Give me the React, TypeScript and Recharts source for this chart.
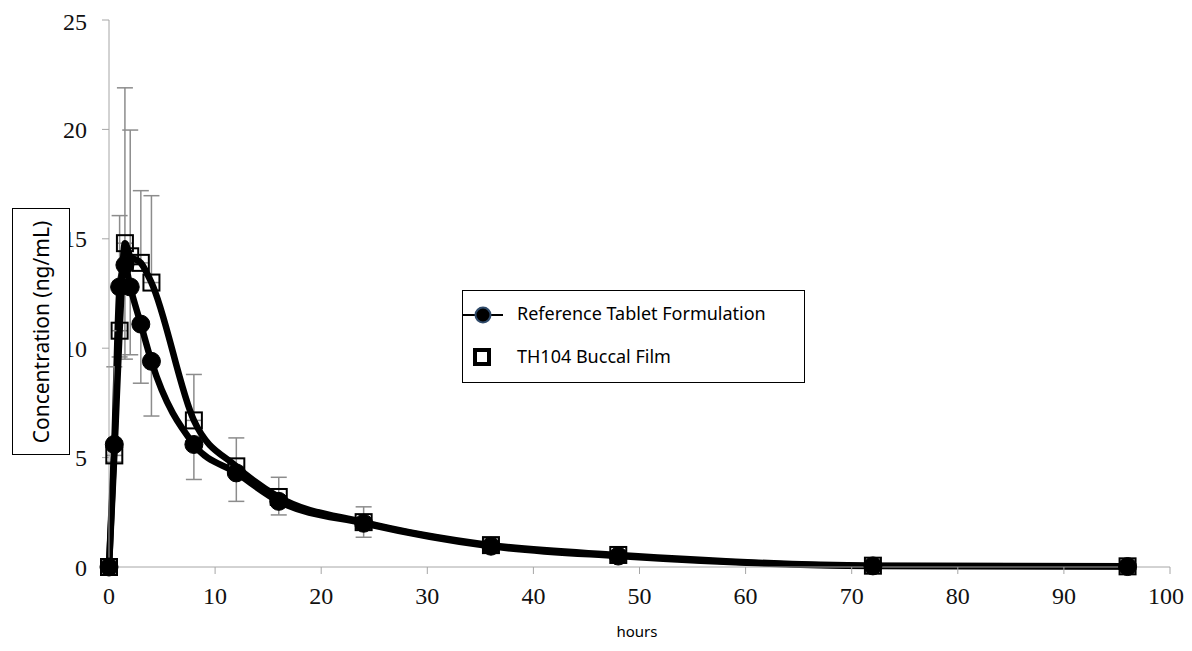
import { ComposedChart, Line, XAxis, YAxis, ErrorBar } from 'recharts';

// sampling times (hours)
const hours = [0, 0.5, 1, 1.5, 2, 3, 4, 8, 12, 16, 24, 36, 48, 72, 96];
// mean plasma concentration (ng/mL)
const referenceTablet = [0, 5.6, 12.8, 13.8, 12.8, 11.1, 9.4, 5.6, 4.3, 3.0, 2.0, 0.95, 0.5, 0.05, 0.02];
const buccalFilm = [0, 5.1, 10.8, 14.8, 14.2, 13.9, 13.0, 6.7, 4.6, 3.2, 2.05, 1.0, 0.55, 0.06, 0.03];
// error bars: reference shows minus side, film shows plus side
const referenceMinusErr = [0, 0.8, 3.2, 4.3, 3.1, 2.7, 2.5, 1.6, 1.3, 0.62, 0.64, 0.3, 0.2, 0.03, 0.02];
const buccalPlusErr = [0, 4.05, 5.26, 7.1, 5.77, 3.3, 3.97, 2.1, 1.3, 0.9, 0.7, 0.3, 0.2, 0.05, 0.04];

const xTicks = [0, 10, 20, 30, 40, 50, 60, 70, 80, 90, 100];
const yTicks = [0, 5, 10, 15, 20, 25];

const data = hours.map((h, i) => ({
  hours: h,
  reference: referenceTablet[i],
  film: buccalFilm[i],
  refErr: [referenceMinusErr[i], 0],
  filmErr: [0, buccalPlusErr[i]],
}));

const axisColor = '#a6a6a6';
const tickFont = { fontFamily: '"Liberation Serif", serif', fontSize: 24, fill: '#111' };
const labelFont = '"Noto Sans", sans-serif';

function SquareDot(props: any) {
  const { cx, cy, index } = props;
  if (cx == null || cy == null) return null;
  return <rect key={`sq-${index}`} x={cx - 8} y={cy - 8} width={16} height={16} fill="none" stroke="#000" strokeWidth={2} />;
}

export default function App() {
  return (
    <div style={{ position: 'relative', width: 1176, height: 635, background: '#fff' }}>
      <ComposedChart width={1176} height={635} data={data} margin={{ top: 12, right: 14, left: 41, bottom: 46 }}>
        <XAxis
          type="number"
          dataKey="hours"
          domain={[0, 100]}
          ticks={xTicks}
          stroke={axisColor}
          tickSize={7}
          tickMargin={13}
          tick={tickFont}
          height={30}
        />
        <YAxis
          type="number"
          domain={[0, 25]}
          ticks={yTicks}
          stroke={axisColor}
          tickSize={7}
          tickMargin={15}
          tick={tickFont}
          width={60}
        />
        <Line
          type="monotone"
          dataKey="reference"
          stroke="#000"
          strokeWidth={6.5}
          dot={{ r: 9, fill: '#000', stroke: '#000', strokeWidth: 1 }}
          isAnimationActive={false}
        >
          <ErrorBar dataKey="refErr" direction="y" width={8} stroke="#8c8c8c" strokeWidth={1.5} />
        </Line>
        <Line
          type="monotone"
          dataKey="film"
          stroke="#000"
          strokeWidth={6.5}
          dot={SquareDot}
          isAnimationActive={false}
        >
          <ErrorBar dataKey="filmErr" direction="y" width={8} stroke="#8c8c8c" strokeWidth={1.5} />
        </Line>
      </ComposedChart>

      <div
        style={{
          position: 'absolute', left: 4, top: 200, width: 58, height: 247,
          border: '1px solid #000', boxSizing: 'border-box', background: '#fff',
          display: 'flex', alignItems: 'center', justifyContent: 'center',
        }}
      >
        <div style={{ transform: 'rotate(-90deg)', whiteSpace: 'nowrap', fontFamily: labelFont, fontSize: 21, color: '#000' }}>
          Concentration (ng/mL)
        </div>
      </div>

      <div style={{ position: 'absolute', left: 0, width: 1176, top: 614, lineHeight: '18px', textAlign: 'center', paddingLeft: 82, boxSizing: 'border-box', fontFamily: labelFont, fontSize: 15, color: '#000' }}>
        hours
      </div>

      <div
        style={{
          position: 'absolute', left: 454, top: 282, width: 343, height: 93,
          border: '1px solid #000', boxSizing: 'border-box', background: '#fff',
          fontFamily: labelFont, fontSize: 18, color: '#000',
        }}
      >
        <svg width={44} height={20} style={{ position: 'absolute', left: 0, top: 14 }}>
          <line x1={0} y1={10} x2={40} y2={10} stroke="#000" strokeWidth={2} />
          <circle cx={20} cy={10} r={7.5} fill="#000" stroke="#2f4a6a" strokeWidth={2} />
        </svg>
        <div style={{ position: 'absolute', left: 54, top: 10, whiteSpace: 'nowrap' }}>Reference Tablet Formulation</div>
        <svg width={20} height={20} style={{ position: 'absolute', left: 10, top: 57 }}>
          <rect x={2} y={2} width={14} height={14} fill="#fff" stroke="#000" strokeWidth={4} />
        </svg>
        <div style={{ position: 'absolute', left: 54, top: 53, whiteSpace: 'nowrap' }}>TH104 Buccal Film</div>
      </div>
    </div>
  );
}
